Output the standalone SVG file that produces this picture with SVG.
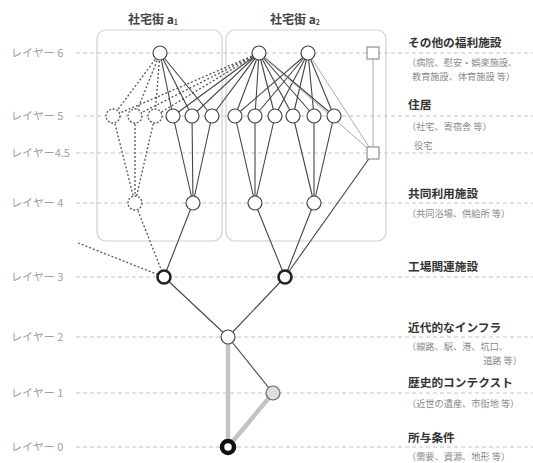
<svg xmlns="http://www.w3.org/2000/svg" width="533" height="463" viewBox="0 0 533 463">
<style>
.lay{font-family:"Noto Sans CJK JP","Liberation Sans",sans-serif;font-size:11px;fill:#a0a0a0;}
.hd{font-family:"Noto Sans CJK JP","Liberation Sans",sans-serif;font-size:11.7px;font-weight:bold;fill:#333;}
.sub{font-family:"Noto Sans CJK JP","Liberation Sans",sans-serif;font-size:9.2px;fill:#888;}
.ttl{font-family:"Noto Sans CJK JP","Liberation Sans",sans-serif;font-size:12px;font-weight:bold;fill:#444;}
.grid{stroke:#c4c4c4;stroke-width:1;stroke-dasharray:4 3;fill:none;}
.box{fill:none;stroke:#cfcfcf;stroke-width:1.2;}
.e{stroke:#444;stroke-width:1.1;fill:none;}
.d{stroke:#555;stroke-width:1.3;stroke-dasharray:2 2;fill:none;}
.g{stroke:#aaa;stroke-width:1;fill:none;}
.thick{stroke:#c4c4c4;stroke-width:4.5;fill:none;}
.n{fill:#fff;stroke:#444;stroke-width:1.2;}
.nd{fill:#fff;stroke:#555;stroke-width:1.3;stroke-dasharray:2 1.6;}
.n3{fill:#fff;stroke:#222;stroke-width:2.6;}
.sq{fill:#fff;stroke:#888;stroke-width:1.1;}
</style>

<g id="grid">
<line class="grid" x1="76" y1="53" x2="533" y2="53"/>
<line class="grid" x1="76" y1="116" x2="533" y2="116"/>
<line class="grid" x1="76" y1="153" x2="533" y2="153"/>
<line class="grid" x1="76" y1="203" x2="533" y2="203"/>
<line class="grid" x1="76" y1="277" x2="533" y2="277"/>
<line class="grid" x1="76" y1="337" x2="533" y2="337"/>
<line class="grid" x1="76" y1="393" x2="533" y2="393"/>
<line class="grid" x1="76" y1="447" x2="533" y2="447"/>
</g>

<g id="layer-labels">
<text class="lay" x="11" y="57">レイヤー 6</text>
<text class="lay" x="11" y="120">レイヤー 5</text>
<text class="lay" x="11" y="157">レイヤー4.5</text>
<text class="lay" x="11" y="207">レイヤー 4</text>
<text class="lay" x="11" y="281">レイヤー 3</text>
<text class="lay" x="11" y="341">レイヤー 2</text>
<text class="lay" x="11" y="397">レイヤー 1</text>
<text class="lay" x="11" y="451">レイヤー 0</text>
</g>

<g id="districts">
<rect class="box" x="97" y="30" width="125" height="211" rx="9"/>
<rect class="box" x="226" y="30" width="160" height="211" rx="9"/>
<text class="ttl" x="128" y="24">社宅街 a<tspan font-size="7" dy="1">1</tspan></text>
<text class="ttl" x="270" y="24">社宅街 a<tspan font-size="7" dy="1">2</tspan></text>
</g>

<g id="connectors">
<line class="d" x1="160" y1="53" x2="113" y2="116"/>
<line class="d" x1="160" y1="53" x2="135" y2="116"/>
<line class="d" x1="160" y1="53" x2="155" y2="116"/>
<line class="d" x1="259" y1="53" x2="113" y2="116"/>
<line class="d" x1="259" y1="53" x2="135" y2="116"/>
<line class="d" x1="259" y1="53" x2="155" y2="116"/>
<line class="d" x1="113" y1="116" x2="135" y2="203"/>
<line class="d" x1="135" y1="116" x2="135" y2="203"/>
<line class="d" x1="155" y1="116" x2="135" y2="203"/>
<line class="d" x1="135" y1="203" x2="164" y2="277"/>
<line class="d" x1="78" y1="243" x2="164" y2="277"/>
<line class="e" x1="160" y1="53" x2="173" y2="116"/>
<line class="e" x1="160" y1="53" x2="192" y2="116"/>
<line class="e" x1="160" y1="53" x2="212" y2="116"/>
<line class="e" x1="259" y1="53" x2="173" y2="116"/>
<line class="e" x1="259" y1="53" x2="192" y2="116"/>
<line class="e" x1="259" y1="53" x2="212" y2="116"/>
<line class="e" x1="259" y1="53" x2="235" y2="116"/>
<line class="e" x1="259" y1="53" x2="255" y2="116"/>
<line class="e" x1="259" y1="53" x2="275" y2="116"/>
<line class="e" x1="259" y1="53" x2="293" y2="116"/>
<line class="e" x1="259" y1="53" x2="314" y2="116"/>
<line class="e" x1="259" y1="53" x2="334" y2="116"/>
<line class="e" x1="308" y1="53" x2="235" y2="116"/>
<line class="e" x1="308" y1="53" x2="255" y2="116"/>
<line class="e" x1="308" y1="53" x2="275" y2="116"/>
<line class="e" x1="308" y1="53" x2="293" y2="116"/>
<line class="e" x1="308" y1="53" x2="314" y2="116"/>
<line class="e" x1="308" y1="53" x2="334" y2="116"/>
<line class="g" x1="259" y1="53" x2="373" y2="153" stroke="#888"/>
<line class="g" x1="308" y1="53" x2="373" y2="153"/>
<line class="g" x1="373" y1="59" x2="373" y2="147"/>
<line class="e" x1="173" y1="116" x2="193" y2="203"/>
<line class="e" x1="192" y1="116" x2="193" y2="203"/>
<line class="e" x1="212" y1="116" x2="193" y2="203"/>
<line class="e" x1="235" y1="116" x2="255" y2="203"/>
<line class="e" x1="255" y1="116" x2="255" y2="203"/>
<line class="e" x1="275" y1="116" x2="255" y2="203"/>
<line class="e" x1="293" y1="116" x2="314" y2="203"/>
<line class="e" x1="314" y1="116" x2="314" y2="203"/>
<line class="e" x1="334" y1="116" x2="314" y2="203"/>
<line class="e" x1="193" y1="203" x2="164" y2="277"/>
<line class="e" x1="255" y1="203" x2="285" y2="277"/>
<line class="e" x1="314" y1="203" x2="285" y2="277"/>
<line class="e" x1="373" y1="153" x2="285" y2="277"/>
<line class="e" x1="164" y1="277" x2="228" y2="337"/>
<line class="e" x1="285" y1="277" x2="228" y2="337"/>
<line class="e" x1="228" y1="337" x2="273" y2="393"/>
<line class="thick" x1="228" y1="337" x2="228" y2="447"/>
<line class="thick" x1="273" y1="393" x2="228" y2="447"/>
</g>

<g id="n6-a1"><circle class="n" cx="160" cy="53" r="7"/></g>
<g id="n6-a2-1"><circle class="n" cx="259" cy="53" r="7"/></g>
<g id="n6-a2-2"><circle class="n" cx="308" cy="53" r="7"/></g>
<g id="sq6"><rect class="sq" x="367" y="47" width="12" height="12"/></g>

<g id="n5-d1"><circle class="nd" cx="113" cy="116" r="7"/></g>
<g id="n5-d2"><circle class="nd" cx="135" cy="116" r="7"/></g>
<g id="n5-d3"><circle class="nd" cx="155" cy="116" r="7"/></g>
<g id="n5-a1-1"><circle class="n" cx="173" cy="116" r="7"/></g>
<g id="n5-a1-2"><circle class="n" cx="192" cy="116" r="7"/></g>
<g id="n5-a1-3"><circle class="n" cx="212" cy="116" r="7"/></g>
<g id="n5-a2-1"><circle class="n" cx="235" cy="116" r="7"/></g>
<g id="n5-a2-2"><circle class="n" cx="255" cy="116" r="7"/></g>
<g id="n5-a2-3"><circle class="n" cx="275" cy="116" r="7"/></g>
<g id="n5-a2-4"><circle class="n" cx="293" cy="116" r="7"/></g>
<g id="n5-a2-5"><circle class="n" cx="314" cy="116" r="7"/></g>
<g id="n5-a2-6"><circle class="n" cx="334" cy="116" r="7"/></g>
<g id="sq45"><rect class="sq" x="367" y="147" width="12" height="12"/></g>

<g id="n4-d"><circle class="nd" cx="135" cy="203" r="7"/></g>
<g id="n4-a1"><circle class="n" cx="193" cy="203" r="7"/></g>
<g id="n4-a2-1"><circle class="n" cx="255" cy="203" r="7"/></g>
<g id="n4-a2-2"><circle class="n" cx="314" cy="203" r="7"/></g>

<g id="n3-a1"><circle class="n3" cx="164" cy="277" r="6.5"/></g>
<g id="n3-a2"><circle class="n3" cx="285" cy="277" r="6.5"/></g>
<g id="n2"><circle class="n" cx="228" cy="337" r="7" stroke="#222" stroke-width="2"/></g>
<g id="n1"><circle cx="273" cy="393" r="7" fill="#dedede" stroke="#666" stroke-width="1.2"/></g>
<g id="n0"><circle cx="228" cy="447" r="6" fill="#fff" stroke="#111" stroke-width="4.5"/></g>

<g id="labels">
<text class="hd" x="408" y="47">その他の福利施設</text>
<text class="sub" x="407" y="66">（病院、慰安・娯楽施設、</text>
<text class="sub" x="412" y="80">教育施設、体育施設 等）</text>
<text class="hd" x="408" y="109">住居</text>
<text class="sub" x="407" y="130">（社宅、寄宿舎 等）</text>
<text class="sub" x="414" y="149">役宅</text>
<text class="hd" x="408" y="198">共同利用施設</text>
<text class="sub" x="407" y="217">（共同浴場、供給所 等）</text>
<text class="hd" x="408" y="271">工場関連施設</text>
<text class="hd" x="408" y="332">近代的なインフラ</text>
<text class="sub" x="407" y="350">（線路、駅、港、坑口、</text>
<text class="sub" x="522" y="364" text-anchor="end">道路 等）</text>
<text class="hd" x="408" y="387">歴史的コンテクスト</text>
<text class="sub" x="407" y="407">（近世の遺産、市街地 等）</text>
<text class="hd" x="408" y="442">所与条件</text>
<text class="sub" x="407" y="460">（需要、資源、地形 等）</text>
</g>
</svg>
